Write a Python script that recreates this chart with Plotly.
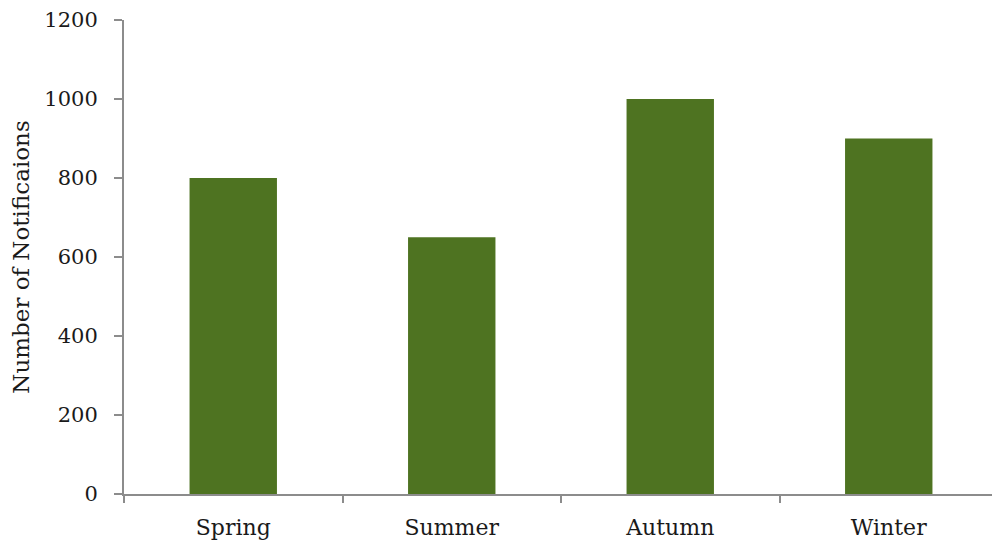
import plotly.graph_objects as go

seasons = ["Spring", "Summer", "Autumn", "Winter"]
notifications = [800, 650, 1000, 900]
y_ticks = [0, 200, 400, 600, 800, 1000, 1200]

font_family = "DejaVu Serif"
axis_color = "#8c8c8c"

fig = go.Figure(
    go.Bar(
        x=seasons,
        y=notifications,
        marker=dict(color="#4e7321", line=dict(width=0)),
        width=0.4,
    )
)

fig.update_layout(
    width=992,
    height=542,
    margin=dict(l=116, r=2, t=12, b=56, autoexpand=False),
    plot_bgcolor="white",
    paper_bgcolor="white",
    showlegend=False,
    font=dict(family=font_family, size=20, color="#1a1a1a"),
)

fig.update_xaxes(
    type="category",
    range=[-0.5, 3.5],
    automargin=False,
    showline=True,
    linecolor=axis_color,
    linewidth=2,
    ticks="outside",
    tickson="boundaries",
    ticklen=7,
    tickcolor=axis_color,
    tickwidth=2,
    showgrid=False,
    tickfont=dict(size=22),
    ticklabelstandoff=13,
)

fig.update_yaxes(
    range=[0, 1200],
    automargin=False,
    tickvals=y_ticks,
    showline=True,
    linecolor=axis_color,
    linewidth=2,
    ticks="outside",
    ticklen=8,
    tickcolor=axis_color,
    tickwidth=2,
    showgrid=False,
    zeroline=False,
    tickfont=dict(size=21),
    ticklabelstandoff=12,
    title=dict(text="Number of Notificaions", font=dict(size=23), standoff=12),
)

fig.write_html("out.html")
